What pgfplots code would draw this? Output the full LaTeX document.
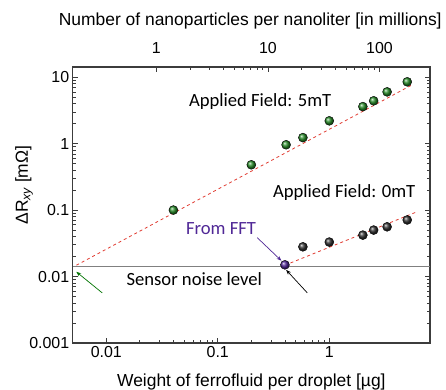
\documentclass[border=0pt]{standalone}
\usepackage{pgfplots}
\pgfplotsset{compat=1.18}
\usepackage{fontspec}
\setmainfont{Liberation Sans}
\newfontfamily\calfont{Carlito}
\usetikzlibrary{arrows.meta}
\definecolor{ptgreen}{RGB}{40,140,40}
\definecolor{fitred}{RGB}{225,60,50}
\definecolor{ffpurple}{RGB}{80,40,150}
\definecolor{axgray}{RGB}{60,60,60}
\begin{document}
\begin{tikzpicture}
\useasboundingbox (-72.7bp,-47bp) rectangle (373.3bp,343bp);
\begin{axis}[
  at={(0,0)}, anchor=south west,
  scale only axis, width=357.3bp, height=276bp,
  xmode=log, ymode=log,
  xmin=0.005, xmax=8, ymin=0.001, ymax=14.2,
  xtick={0.01,0.1,1}, xticklabels={0.01,0.1,1},
  ytick={0.001,0.01,0.1,1,10}, yticklabels={0.001,0.01,0.1,1,10},
  tick align=inside, xtick pos=bottom,
  major tick length=5bp, minor tick length=3bp,
  axis line style={axgray, line width=1.2pt},
  every tick/.style={axgray, line width=0.7pt},
  tick label style={font=\fontsize{16}{19}\selectfont},
  label style={font=\fontsize{17.5}{20}\selectfont},
  xlabel={Weight of ferrofluid per droplet [µg]},
  xlabel style={at={(axis description cs:0.5,-0.159)}, anchor=base},
  ylabel={ΔR\textsubscript{\itshape xy} [mΩ]},
  ylabel style={at={(axis description cs:-0.136,0.572)}, anchor=center},
  clip=false,
]
\addplot[fitred, dashed, line width=0.8pt] coordinates {(0.0054,0.0148) (5.4,7.5)};
\addplot[fitred, dashed, line width=0.8pt] coordinates {(0.4,0.0148) (6.0,0.093)};
\addplot[gray, line width=0.7pt] coordinates {(0.005,0.014) (8,0.014)};
\addplot[only marks, mark=ball, mark size=4.5bp, mark options={ball color=ptgreen}] coordinates {
(0.04,0.10) (0.2,0.48) (0.41,0.96) (0.58,1.23) (1.0,2.2) (2.0,3.6) (2.5,4.4) (3.3,6.0) (5.0,8.5)};
\addplot[only marks, mark=ball, mark size=4.5bp, mark options={ball color=black!80}] coordinates {
(0.58,0.028) (1.0,0.033) (2.0,0.042) (2.5,0.050) (3.3,0.056) (5.0,0.071)};
\addplot[only marks, mark=ball, mark size=4.5bp, mark options={ball color=ffpurple}] coordinates {(0.4,0.015)};
\node[font=\calfont\fontsize{18.7}{22}\selectfont] at (axis cs:0.24,4.3) {Applied Field: 5mT};
\node[font=\calfont\fontsize{18.7}{22}\selectfont] at (axis cs:1.36,0.183) {Applied Field: 0mT};
\node[font=\calfont\fontsize{18.7}{22}\selectfont, text=ffpurple] at (axis cs:0.107,0.0524) {From FFT};
\node[font=\calfont\fontsize{18.7}{22}\selectfont] at (axis cs:0.0615,0.0092) {Sensor noise level};
\draw[-{Stealth[length=5bp]}, ffpurple, line width=0.7pt] (axis cs:0.226,0.0384) -- (axis cs:0.372,0.0173);
\draw[-{Stealth[length=5bp]}, black, line width=0.7pt] (axis cs:0.635,0.00568) -- (axis cs:0.41,0.0126);
\draw[-{Stealth[length=5bp]}, green!45!black, line width=0.7pt] (axis cs:0.0092,0.00568) -- (axis cs:0.00538,0.0118);
\end{axis}
\begin{axis}[
  at={(0,0)}, anchor=south west,
  scale only axis, width=357.3bp, height=276bp,
  xmode=log, xmin=0.178, xmax=284, ymin=0, ymax=1,
  axis x line*=top, axis y line=none,
  xtick={1,10,100}, xticklabels={1,10,100},
  tick align=inside,
  major tick length=5bp, minor tick length=3bp,
  axis line style={axgray, line width=1.2pt},
  every tick/.style={axgray, line width=0.7pt},
  tick label style={font=\fontsize{16}{19}\selectfont},
  xticklabel style={yshift=10bp},
  label style={font=\fontsize{17.5}{20}\selectfont},
  xlabel={Number of nanoparticles per nanoliter [in millions]},
  xlabel style={at={(axis description cs:0.497,1.167)}, anchor=center},
]
\addplot[draw=none] coordinates {(1,0.5)};
\end{axis}
\end{tikzpicture}
\end{document}
